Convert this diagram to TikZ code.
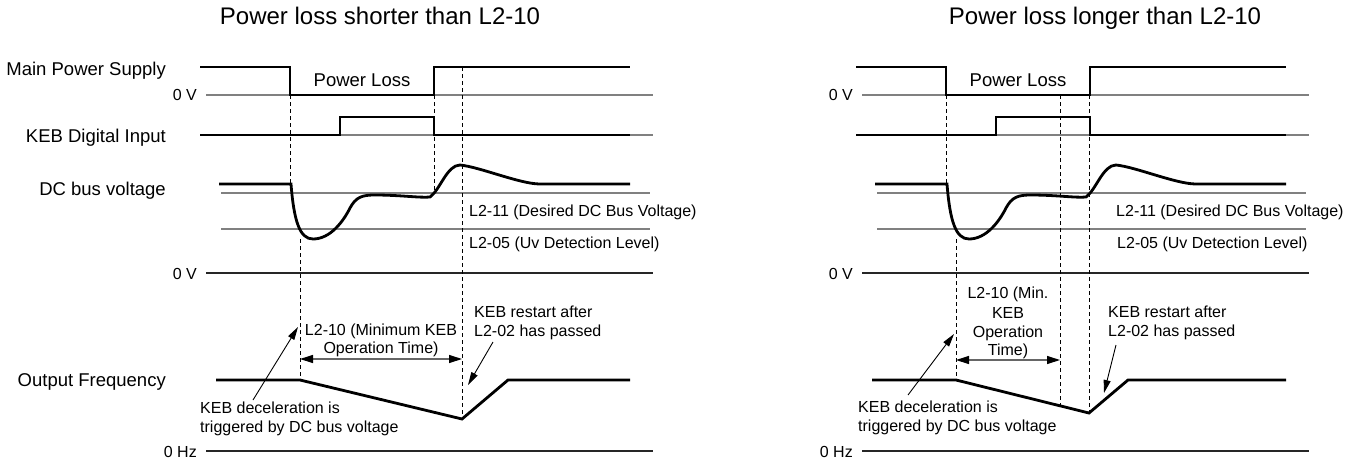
\documentclass[tikz,border=0pt]{standalone}
\usepackage{fontspec}
\setmainfont{Liberation Sans}
\usetikzlibrary{arrows.meta}
\begin{document}
\begin{tikzpicture}[x=1pt,y=-1pt,
 sig/.style={line width=2.8pt, black, line join=miter},
 ref/.style={line width=1.5pt, black!50},
 zero/.style={line width=1.4pt, black!85},
 dsh/.style={line width=0.9pt, dash pattern=on 4pt off 3pt, black},
 lbl/.style={font=\fontsize{18.5}{22}\selectfont, inner sep=0pt},
 sml/.style={font=\fontsize{16}{19}\selectfont, inner sep=0pt},
 ttl/.style={font=\fontsize{24}{28}\selectfont, inner sep=0pt},
 ann/.style={line width=0.9pt, -{Triangle[length=13pt,width=7pt]}},
 spanarr/.style={line width=1.2pt, black!60, {Triangle[length=13pt,width=8pt,color=black]}-{Triangle[length=13pt,width=8pt,color=black]}},
]
\useasboundingbox (0,0) rectangle (1361,461);
\fill[white] (0,0) rectangle (1361,461);

% ---------- shared parts of both panels ----------
\foreach \dx/\s in {0/a,656/b} {
\begin{scope}[xshift=\dx pt]
 \draw[ref] (206,95) -- (653,95);
 \draw[ref] (206,135) -- (653,135);
 \draw[ref] (221,193) -- (650,193);
 \draw[ref] (221,229) -- (650,229);
 \draw[zero] (206,273) -- (653,273);
 \draw[zero] (206,451) -- (653,451);
 \draw[dsh] (290,95) -- (290,184);
 \draw[dsh] (300,239) -- (300,380);
 \draw[sig] (200,67) -- (290,67) -- (290,95) -- (434,95) -- (434,67) -- (630,67);
 \draw[sig] (200,135) -- (340,135) -- (340,117) -- (434,117) -- (434,135) -- (630,135);
 \draw[sig] (219,184) -- (291,184)
   .. controls (294,222) and (300,239) .. (313,239)
   .. controls (330,239) and (343,222) .. (350,208)
   .. controls (356,197) and (362,195) .. (375,195)
   .. controls (400,195) and (420,198) .. (430,197)
   .. controls (440,190) and (447,165) .. (460,165)
   .. controls (480,167) and (520,184) .. (540,184) -- (630,184);
 \node[lbl, anchor=base] (pl\s) at (362,86) {Power Loss};
 \node[sml, anchor=base east] (zva\s) at (197,100.5) {0 V};
 \node[sml, anchor=base east] (zvb\s) at (197,279) {0 V};
 \node[sml, anchor=base east] (zh\s) at (197,457) {0 Hz};
\end{scope}
}

% ---------- left panel ----------
\node[ttl, anchor=base] (t1) at (380,24.5) {Power loss shorter than L2-10};
\node[lbl, anchor=base east] (lmp) at (166,75) {Main Power Supply};
\node[lbl, anchor=base east] (lkeb) at (166,142) {KEB Digital Input};
\node[lbl, anchor=base east] (ldc) at (166,195.5) {DC bus voltage};
\node[lbl, anchor=base east] (lof) at (166,386.5) {Output Frequency};
\node[sml, anchor=base west] (l211a) at (469,216) {L2-11 (Desired DC Bus Voltage)};
\node[sml, anchor=base west] (l205a) at (469,248.5) {L2-05 (Uv Detection Level)};

\draw[dsh] (434,95) -- (434,191);
\draw[dsh] (462,67) -- (462,419);
\draw[sig] (216,380) -- (300,380) -- (462,419) -- (508,380) -- (630,380);

\node[sml, anchor=base] (m1a) at (381,335) {L2-10 (Minimum KEB};
\node[sml, anchor=base] (m2a) at (381,353.5) {Operation Time)};
\coordinate (sa1) at (300,359);
\coordinate (sa2) at (462,359);
\draw[spanarr] (sa1) -- (sa2);

\node[sml, anchor=base west] (r1a) at (474,317.5) {KEB restart after};
\node[sml, anchor=base west] (r2a) at (474,336) {L2-02 has passed};
\coordinate (ra0) at (493,342);
\coordinate (ra1) at (468,385);
\draw[ann] (ra0) -- (ra1);

\node[sml, anchor=base west] (d1a) at (200,413) {KEB deceleration is};
\node[sml, anchor=base west] (d2a) at (200,432) {triggered by DC bus voltage};
\coordinate (da0) at (253,400);
\coordinate (da1) at (298,327);
\draw[ann] (da0) -- (da1);

% ---------- right panel ----------
\node[ttl, anchor=base] (t2) at (1105,24.5) {Power loss longer than L2-10};
\node[sml, anchor=base west] (l211b) at (1116,216) {L2-11 (Desired DC Bus Voltage)};
\node[sml, anchor=base west] (l205b) at (1117,248.5) {L2-05 (Uv Detection Level)};

\draw[dsh] (1060,95) -- (1060,406);
\draw[dsh] (1089,95) -- (1089,413);
\draw[sig] (872,380) -- (956,380) -- (1089,413) -- (1128,380) -- (1286,380);

\node[sml, anchor=base] (m1b) at (1008,298.5) {L2-10 (Min.};
\node[sml, anchor=base] (m2b) at (1008,318) {KEB};
\node[sml, anchor=base] (m3b) at (1008,337) {Operation};
\node[sml, anchor=base] (m4b) at (1008,355.5) {Time)};
\coordinate (sb1) at (956,360);
\coordinate (sb2) at (1060,360);
\draw[spanarr] (sb1) -- (sb2);

\node[sml, anchor=base west] (r1b) at (1108,317.5) {KEB restart after};
\node[sml, anchor=base west] (r2b) at (1108,336) {L2-02 has passed};
\coordinate (rb0) at (1116,345);
\coordinate (rb1) at (1104,393);
\draw[ann] (rb0) -- (rb1);

\node[sml, anchor=base west] (d1b) at (858,412.5) {KEB deceleration is};
\node[sml, anchor=base west] (d2b) at (858,431.5) {triggered by DC bus voltage};
\coordinate (db0) at (908,395);
\coordinate (db1) at (954,334);
\draw[ann] (db0) -- (db1);
\end{tikzpicture}
\end{document}
